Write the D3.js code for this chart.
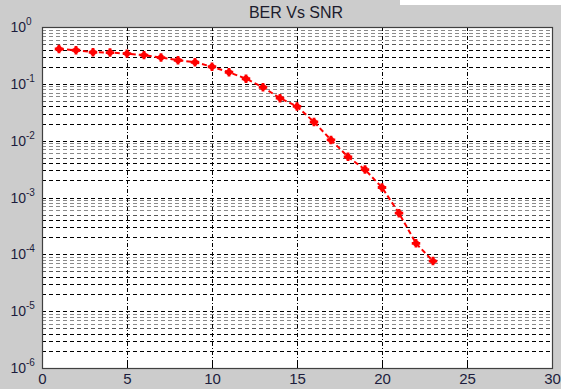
<!DOCTYPE html>
<html>
<head>
<meta charset="utf-8">
<script src="https://cdn.jsdelivr.net/npm/d3@7"></script>
<style>
  body { margin: 0; background: #cccccc; }
  svg { display: block; }
</style>
</head>
<body>
<svg id="chart" width="561" height="389"></svg>
<script>
// SNR (dB) and measured BER
var snr = [1, 2, 3, 4, 5, 6, 7, 8, 9, 10, 11, 12, 13, 14, 15, 16, 17, 18, 19, 20, 21, 22, 23];
var ber = [0.41, 0.39, 0.36, 0.355, 0.34, 0.32, 0.29, 0.26, 0.24, 0.20, 0.16, 0.123, 0.087, 0.056, 0.040,
           0.0213, 0.0103, 0.0052, 0.0031, 0.0015, 0.00053, 0.000156, 0.000076];
var xTicks = [0, 5, 10, 15, 20, 25, 30];
var yExps = [0, -1, -2, -3, -4, -5, -6];
var title = "BER Vs SNR";

var svg = d3.select("#chart");
var width = +svg.attr("width"), height = +svg.attr("height");
var margin = {top: 27, right: 9, bottom: 21, left: 42};
var font = "Arial, 'Liberation Sans', sans-serif";

svg.append("rect").attr("width", width).attr("height", height).attr("fill", "#cccccc");
svg.append("rect").attr("x", 400).attr("width", width - 400).attr("height", 5).attr("fill", "#ffffff");

var x = d3.scaleLinear().domain([0, 30]).range([margin.left, width - margin.right]);
var y = d3.scaleLog().domain([1e-6, 1]).range([height - margin.bottom, margin.top]);

// plot area
svg.append("rect")
  .attr("x", x(0)).attr("y", y(1))
  .attr("width", x(30) - x(0)).attr("height", y(1e-6) - y(1))
  .attr("fill", "#ffffff");

// horizontal grid: every 1..9 x 10^k
var hLines = [];
for (var e = -6; e < 0; e++) {
  for (var m = 1; m <= 9; m++) hLines.push({v: m * Math.pow(10, e), m: m});
}
svg.append("g").selectAll("line")
  .data(hLines.filter(function(d){ return d.v > 1e-6; }))
  .enter().append("line")
  .attr("x1", x(0)).attr("x2", x(30))
  .attr("y1", function(d){ return Math.round(y(d.v)) + 0.5; })
  .attr("y2", function(d){ return Math.round(y(d.v)) + 0.5; })
  .attr("stroke", function(d){ return d.m >= 6 ? "#8a8a8a" : (d.m == 5 ? "#555" : "#000"); })
  .attr("stroke-width", 1)
  .attr("stroke-dasharray", "4,3");

// vertical grid
svg.append("g").selectAll("line")
  .data(xTicks.slice(1, -1))
  .enter().append("line")
  .attr("x1", function(d){ return Math.round(x(d)) + 0.5; })
  .attr("x2", function(d){ return Math.round(x(d)) + 0.5; })
  .attr("y1", y(1)).attr("y2", y(1e-6))
  .attr("stroke", "#000").attr("stroke-width", 1)
  .attr("stroke-dasharray", "4,2,1,2");

// axes frame
svg.append("rect")
  .attr("x", x(0) + 0.5).attr("y", y(1) + 0.5)
  .attr("width", x(30) - x(0)).attr("height", y(1e-6) - y(1))
  .attr("fill", "none").attr("stroke", "#404040").attr("stroke-width", 1.2);

// x ticks
var xAxis = d3.axisBottom(x).tickValues(xTicks).tickSize(0).tickPadding(5);
var gx = svg.append("g").attr("transform", "translate(0," + y(1e-6) + ")").call(xAxis);
gx.select(".domain").remove();
gx.selectAll("text").attr("font-family", font)
  .attr("font-size", 15).attr("fill", "#1c1c3c");

// small tick marks on inner edges
svg.append("g").selectAll("line").data(xTicks.slice(1, -1)).enter().append("line")
  .attr("x1", function(d){ return Math.round(x(d)) + 0.5; })
  .attr("x2", function(d){ return Math.round(x(d)) + 0.5; })
  .attr("y1", y(1e-6)).attr("y2", y(1e-6) - 5)
  .attr("stroke", "#000");

// y tick labels 10^k
var gy = svg.append("g");
yExps.forEach(function(k){
  gy.append("text")
    .attr("x", x(0) - 16).attr("y", y(Math.pow(10, k)) + 5)
    .attr("text-anchor", "end")
    .attr("font-family", font)
    .attr("font-size", 14).attr("fill", "#1c1c3c")
    .text("10");
  gy.append("text")
    .attr("x", x(0) - 16).attr("y", y(Math.pow(10, k)) - 2)
    .attr("text-anchor", "start")
    .attr("font-family", font)
    .attr("font-size", 10).attr("fill", "#1c1c3c")
    .text(k);
});

// title
svg.append("text")
  .attr("x", 296).attr("y", 18)
  .attr("text-anchor", "middle")
  .attr("font-family", font)
  .attr("font-size", 16).attr("fill", "#1c1c2c")
  .text(title);

// data line
var pts = snr.map(function(s, i){ return [s, ber[i]]; });
var line = d3.line().x(function(d){ return x(d[0]); }).y(function(d){ return y(d[1]); });
svg.append("path").datum(pts)
  .attr("d", line).attr("fill", "none")
  .attr("stroke", "#ff0000").attr("stroke-width", 2)
  .attr("stroke-dasharray", "5,3");

// star markers
svg.append("g").selectAll("path").data(pts).enter().append("path")
  .attr("d", d3.symbol().type(d3.symbolCross).size(40))
  .attr("transform", function(d){ return "translate(" + x(d[0]) + "," + y(d[1]) + ")"; })
  .attr("fill", "#ff0000");
svg.append("g").selectAll("path").data(pts).enter().append("path")
  .attr("d", d3.symbol().type(d3.symbolCross).size(22))
  .attr("transform", function(d){ return "translate(" + x(d[0]) + "," + y(d[1]) + ") rotate(45)"; })
  .attr("fill", "#ff0000");
</script>
</body>
</html>
